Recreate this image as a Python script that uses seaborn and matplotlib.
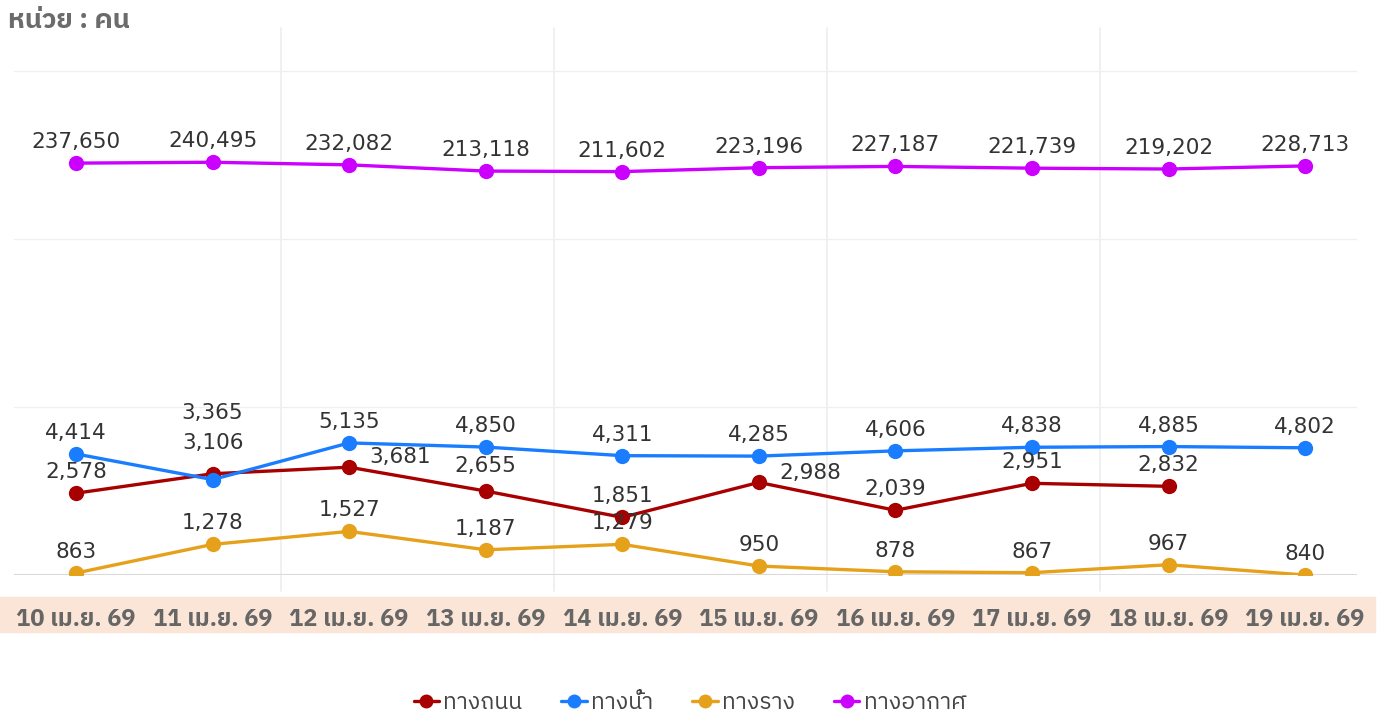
import numpy as np
import pandas as pd
import seaborn as sns
import matplotlib
matplotlib.use('Agg')
import matplotlib.pyplot as plt
from matplotlib import font_manager
from matplotlib.ft2font import FT2Font
from matplotlib.lines import Line2D
from matplotlib.patches import Rectangle

days = ['10 เม.ย. 69', '11 เม.ย. 69', '12 เม.ย. 69', '13 เม.ย. 69', '14 เม.ย. 69',
        '15 เม.ย. 69', '16 เม.ย. 69', '17 เม.ย. 69', '18 เม.ย. 69', '19 เม.ย. 69']
modes = ['ทางถนน', 'ทางน้ำ', 'ทางราง', 'ทางอากาศ']
road = [2578, 3365, 3681, 2655, 1851, 2988, 2039, 2951, 2832, np.nan]
water = [4414, 3106, 5135, 4850, 4311, 4285, 4606, 4838, 4885, 4802]
rail = [863, 1278, 1527, 1187, 1279, 950, 878, 867, 967, 840]
air = [237650, 240495, 232082, 213118, 211602, 223196, 227187, 221739, 219202, 228713]
colors = ['#A80000', '#1A7DFF', '#E6A11A', '#CC00FF']


def find_thai_font():
    found = []
    for f in font_manager.fontManager.ttflist:
        try:
            if ord('ท') in FT2Font(f.fname).get_charmap():
                found.append(f.name)
        except Exception:
            pass
    for name in found:
        if 'Thai' in name and 'Looped' not in name:
            return name
    return found[0] if found else None


sns.set_style('white')
thai = find_thai_font()
fams = [thai, 'DejaVu Sans'] if thai else ['DejaVu Sans']
plt.rcParams['font.family'] = fams

df = pd.DataFrame({
    'day': np.tile(np.arange(len(days)), 4),
    'mode': np.repeat(modes, len(days)),
    'value': road + water + rail + air,
})

fig = plt.figure(figsize=(13.8, 7.16), dpi=100)
ax = fig.add_axes([14 / 1380, 141 / 716, 1343 / 1380, 547 / 716])

# vertical grid every two days, horizontal grid per decade from the minimum
for xv in [1.5, 3.5, 5.5, 7.5]:
    ax.axvline(xv, ymin=-0.03, ymax=1, color='#EDEDED', lw=1.2, zorder=0, clip_on=False)
for yv in [8400, 84000, 840000]:
    ax.axhline(yv, color='#F0F0F0', lw=1, zorder=0)
ax.axhline(840, color='#DADADA', lw=1.5, zorder=0)

sns.lineplot(data=df, x='day', y='value', hue='mode', hue_order=modes,
             palette=colors, marker='o', markersize=11, markeredgewidth=0,
             linewidth=2.4, legend=False, ax=ax, zorder=3)

ax.set_yscale('log')
ax.set_ylim(840, 840 * 10 ** (547 / 168))
ax.set_xlim(-0.454, 9.38)
for s in ax.spines.values():
    s.set_visible(False)
ax.set_yticks([])
ax.minorticks_off()
ax.set_xlabel('')
ax.set_ylabel('')
ax.set_xticks(range(len(days)))
ax.set_xticklabels(days, fontsize=17, fontweight='bold', color='#666666')
ax.tick_params(axis='x', length=0, pad=24)

# label offsets (pixels), default straight above
offsets = {
    ('ทางน้ำ', 1): (0, 37),
    ('ทางถนน', 1): (0, 61),
    ('ทางถนน', 2): (51, 10),
    ('ทางถนน', 3): (0, 25),
    ('ทางถนน', 5): (51, 9),
}
for m, vals in zip(modes, [road, water, rail, air]):
    for i, v in enumerate(vals):
        if np.isnan(v):
            continue
        dx, dy = offsets.get((m, i), (0, 21))
        ax.annotate(f'{int(v):,}', (i, v), xytext=(dx, dy), textcoords='offset pixels',
                    ha='center', va='center', fontsize=15.5, color='#333333',
                    family=['DejaVu Sans'], zorder=5)

fig.patches.append(Rectangle((0, 84 / 716), 1375 / 1380, 35 / 716,
                             transform=fig.transFigure, color='#FBE5D6', zorder=-1))

fig.text(8 / 1380, 1 - 21 / 716, 'หน่วย : คน', fontsize=19.5, fontweight='bold',
         color='#6B6B6B', va='center', ha='left')

handles = [Line2D([0], [0], color=c, marker='o', markersize=10, lw=2.4,
                  markeredgewidth=0) for c in colors]
fig.legend(handles, modes, loc='center', bbox_to_anchor=(0.5, 1 - 703 / 716),
           ncol=4, frameon=False, fontsize=16.5, handlelength=1.1, handletextpad=0.2,
           columnspacing=1.7, labelcolor='#444444')

fig.savefig('out.png', dpi=100, facecolor='white')
